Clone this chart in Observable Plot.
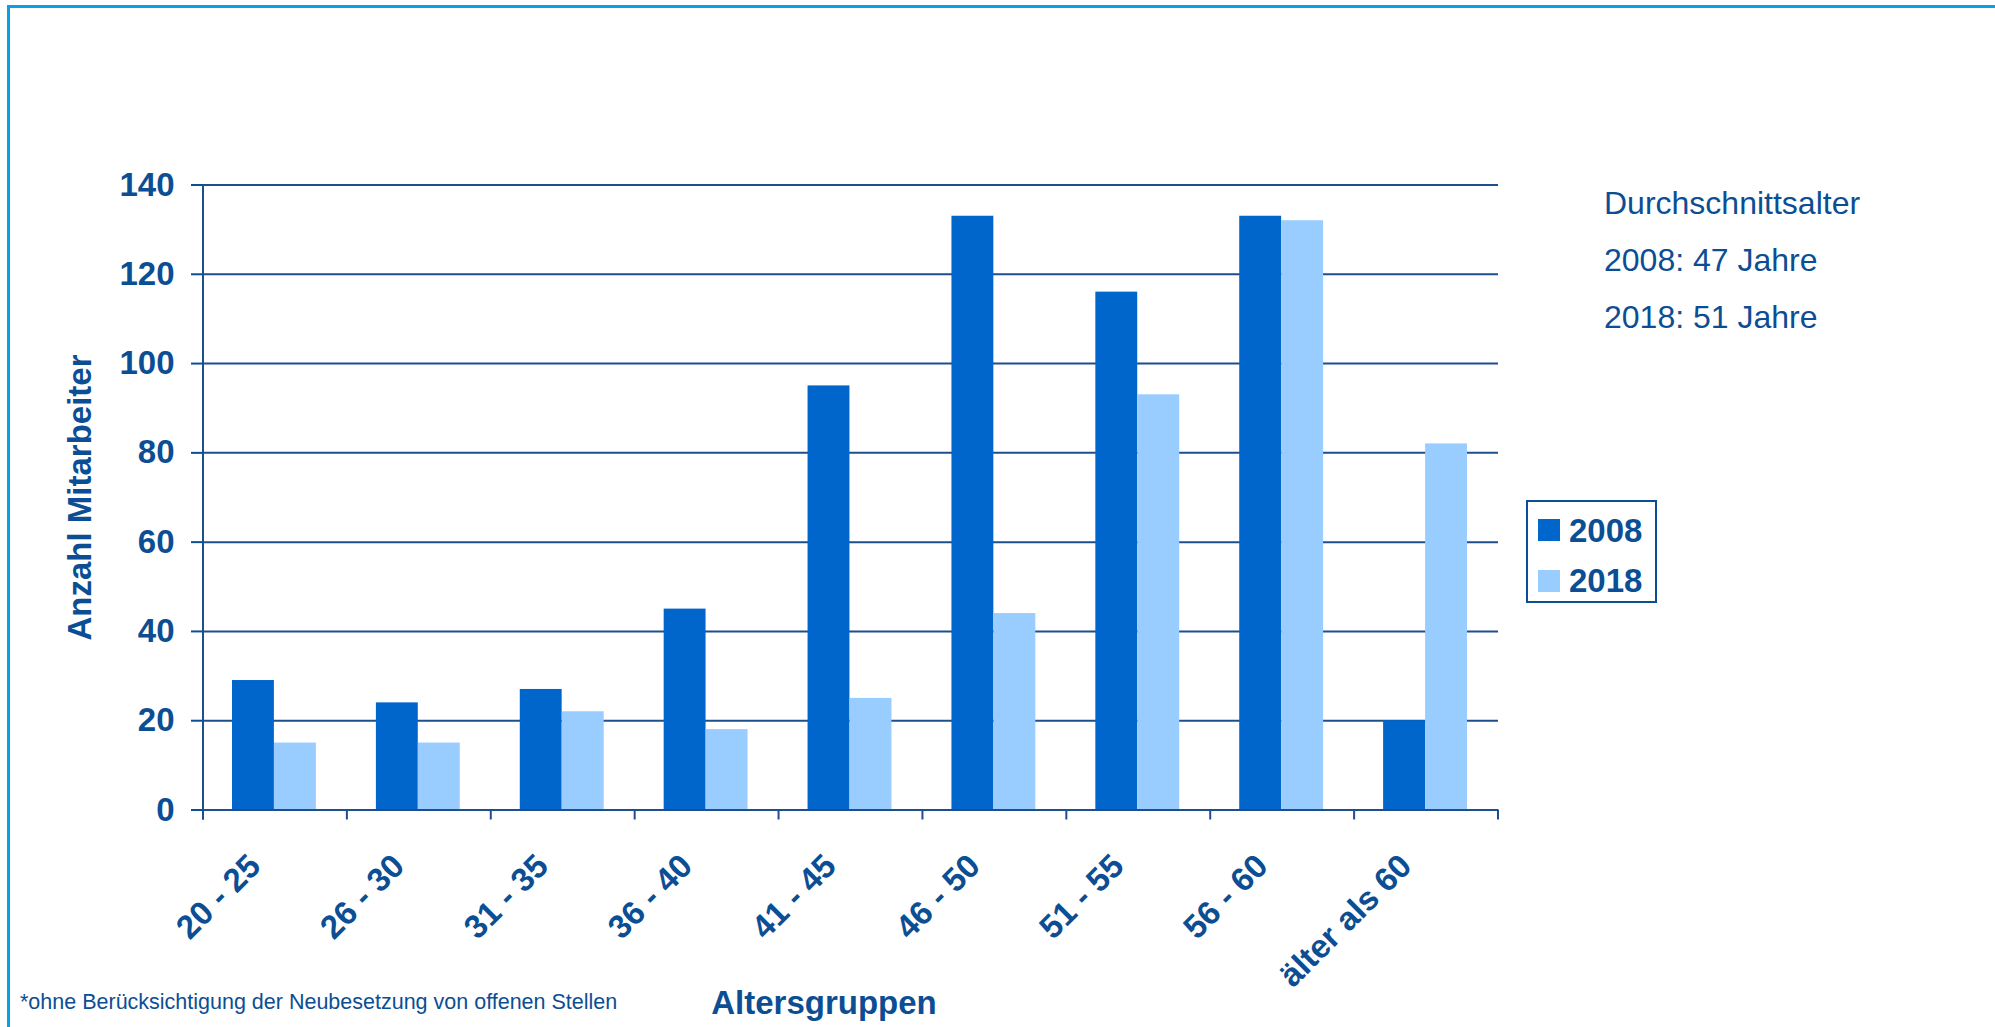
<!DOCTYPE html>
<html>
<head>
<meta charset="utf-8">
<script src="https://cdn.jsdelivr.net/npm/d3@7"></script>
<script src="https://cdn.jsdelivr.net/npm/@observablehq/plot@0.6"></script>
<style>
  html, body { margin: 0; padding: 0; background: #fff; }
  #wrap { position: relative; width: 1995px; height: 1027px; overflow: hidden;
          font-family: "Liberation Sans", Arial, sans-serif; color: #0c4e93; }
  #chart { position: absolute; left: 0; top: 0; }
  #border { position: absolute; left: 7px; top: 5px; right: -20px; bottom: -20px;
            border-left: 3px solid #0aa0e4; border-top: 3px solid #0aa0e4; }
  .abs { position: absolute; white-space: nowrap; }
  .note { font-size: 32px; line-height: 32px; }
  .leg { font-size: 33px; line-height: 33px; font-weight: bold; }
  .foot { font-size: 21.5px; line-height: 21.5px; }
  #legendBox { border: 2px solid #0c4e93; box-sizing: border-box; }
  #chart [aria-label="y-axis tick"] { stroke-width: 2; }
</style>
</head>
<body>
<div id="wrap">
  <div id="border"></div>
  <div id="chart"></div>
</div>
<script>
// ---------- data ----------
const categories = ["20 - 25", "26 - 30", "31 - 35", "36 - 40", "41 - 45", "46 - 50", "51 - 55", "56 - 60", "älter als 60"];
const years = ["2008", "2018"];
const values2008 = [29, 24, 27, 45, 95, 133, 116, 133, 20];
const values2018 = [15, 15, 22, 18, 25, 44, 93, 132, 82];
const yTicks = [0, 20, 40, 60, 80, 100, 120, 140];
const seriesColors = ["#0066cc", "#99ccff"];
const yLabel = "Anzahl Mitarbeiter";
const xLabel = "Altersgruppen";
const notes = ["Durchschnittsalter", "2008: 47 Jahre", "2018: 51 Jahre"];
const footnote = "*ohne Berücksichtigung der Neubesetzung von offenen Stellen";

// ---------- styles ----------
const textColor = "#0c4e93";
const lineColor = "#1d4f8c";
const boldFont = 33;

const rows = categories.flatMap((c, i) => [
  {group: c, year: years[0], value: values2008[i]},
  {group: c, year: years[1], value: values2018[i]}
]);

// boundary ticks and y-axis line, drawn from the plot's own scales
function boundaryTicks(index, scales) {
  const x = scales.x, y = scales.y;
  const step = x.bandwidth ? x.bandwidth() : (x(categories[1]) - x(categories[0]));
  const xs = categories.map(c => x(c)).concat([x(categories[categories.length - 1]) + step]);
  const y0 = y(0), yTop = y(yTicks[yTicks.length - 1]);
  const g = d3.create("svg:g").attr("stroke", lineColor).attr("stroke-width", 2).attr("aria-label", "x boundary ticks");
  g.selectAll("line.tick").data(xs).join("line")
    .attr("class", "tick")
    .attr("x1", d => d).attr("x2", d => d)
    .attr("y1", y0).attr("y2", y0 + 10);
  g.append("line")
    .attr("x1", xs[0]).attr("x2", xs[0])
    .attr("y1", yTop).attr("y2", y0 + 10);
  return g.node();
}

const chart = Plot.plot({
  width: 1995,
  height: 1027,
  marginLeft: 203,
  marginRight: 497,
  marginTop: 184.5,
  marginBottom: 217.5,
  style: {fontFamily: "'Liberation Sans', Arial, sans-serif", color: textColor, background: "transparent", overflow: "visible"},
  x: {type: "band", domain: categories, padding: 0, round: false, axis: null},
  y: {domain: [0, 140], axis: "left", ticks: yTicks, tickSize: 12, tickPadding: 17, label: null, tickFormat: d => String(d)},
  color: {domain: years, range: seriesColors},
  marks: [
    Plot.ruleY(yTicks, {stroke: lineColor, strokeWidth: 2}),
    Plot.barY(rows.filter(d => d.year === years[0]), {x: "group", y: "value", fill: "year", insetLeft: 29, insetRight: 73}),
    Plot.barY(rows.filter(d => d.year === years[1]), {x: "group", y: "value", fill: "year", insetLeft: 71, insetRight: 31}),
    Plot.ruleY([0], {stroke: lineColor, strokeWidth: 2}),
    boundaryTicks,
    Plot.text(categories, {x: d => d, text: d => d, frameAnchor: "bottom", rotate: -45, textAnchor: "end", lineAnchor: "bottom",
      dx: -13, dy: 58, fontSize: boldFont, fontWeight: "bold", fill: textColor}),
    Plot.text([yLabel], {text: d => d, frameAnchor: "left", rotate: -90, textAnchor: "middle", lineAnchor: "bottom",
      dx: -113, fontSize: boldFont, fontWeight: "bold", fill: textColor}),
    Plot.text([xLabel], {text: d => d, frameAnchor: "bottom", textAnchor: "middle", lineAnchor: "bottom",
      dx: -27, dy: 203.5, fontSize: boldFont, fontWeight: "bold", fill: textColor})
  ]
});
// bold y tick labels
d3.select(chart).selectAll('[aria-label="y-axis tick label"] text, [aria-label="y-axis tick label"]')
  .attr("font-size", boldFont).attr("font-weight", "bold");
document.getElementById("chart").appendChild(chart);

// ---------- annotations, legend, footnote (HTML overlays) ----------
const wrap = d3.select("#wrap");
const noteFs = 32, baseK = 0.8465;
const noteBaselines = [214, 271.5, 328.5];
notes.forEach((t, i) => {
  wrap.append("div").attr("class", "abs note")
    .style("left", "1604px").style("top", (noteBaselines[i] - baseK * noteFs) + "px").text(t);
});

wrap.append("div").attr("id", "legendBox").attr("class", "abs")
  .style("left", "1526px").style("top", "500px").style("width", "131px").style("height", "103px");
const legBaselines = [541.5, 591.5];
const swatchTops = [519, 570];
years.forEach((yr, i) => {
  wrap.append("div").attr("class", "abs")
    .style("left", "1538px").style("top", swatchTops[i] + "px")
    .style("width", "21.5px").style("height", "21.5px").style("background", seriesColors[i]);
  wrap.append("div").attr("class", "abs leg")
    .style("left", "1569px").style("top", (legBaselines[i] - baseK * boldFont) + "px").text(yr);
});

wrap.append("div").attr("class", "abs foot")
  .style("left", "20px").style("top", (1010 - baseK * 21.5) + "px").text(footnote);
</script>
</body>
</html>
